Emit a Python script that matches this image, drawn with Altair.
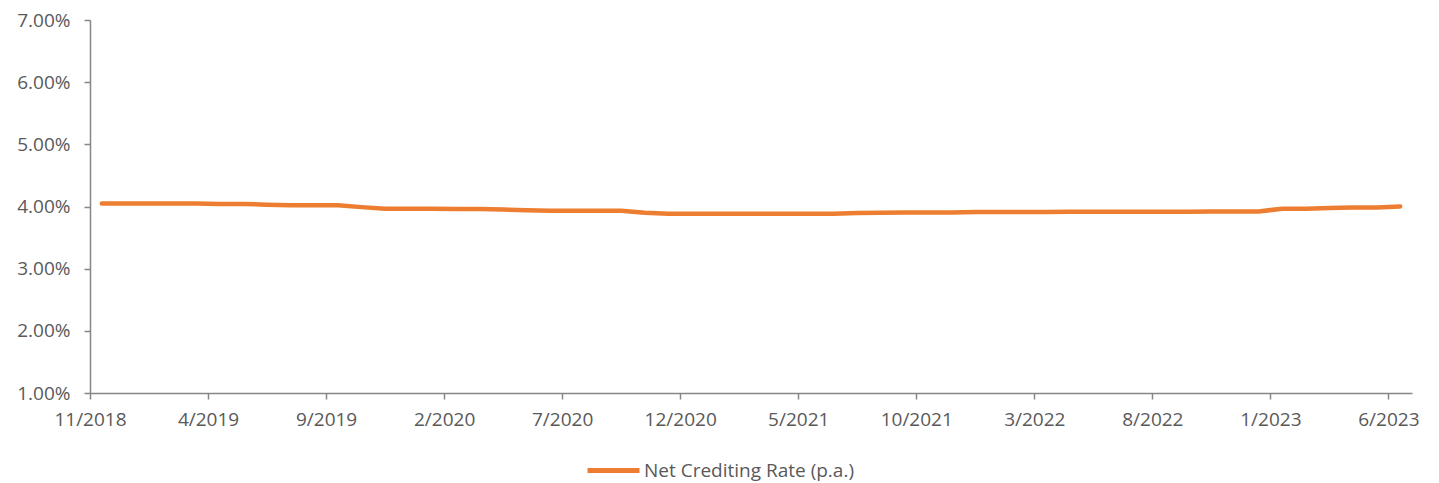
import altair as alt
import pandas as pd

months = [
    "11/2018", "12/2018",
    "1/2019", "2/2019", "3/2019", "4/2019", "5/2019", "6/2019", "7/2019", "8/2019", "9/2019", "10/2019", "11/2019", "12/2019",
    "1/2020", "2/2020", "3/2020", "4/2020", "5/2020", "6/2020", "7/2020", "8/2020", "9/2020", "10/2020", "11/2020", "12/2020",
    "1/2021", "2/2021", "3/2021", "4/2021", "5/2021", "6/2021", "7/2021", "8/2021", "9/2021", "10/2021", "11/2021", "12/2021",
    "1/2022", "2/2022", "3/2022", "4/2022", "5/2022", "6/2022", "7/2022", "8/2022", "9/2022", "10/2022", "11/2022", "12/2022",
    "1/2023", "2/2023", "3/2023", "4/2023", "5/2023", "6/2023",
]
rates = [
    4.05, 4.05,
    4.05, 4.05, 4.05, 4.04, 4.04, 4.03, 4.02, 4.02, 4.02, 3.99, 3.965, 3.965,
    3.965, 3.96, 3.96, 3.95, 3.94, 3.93, 3.93, 3.93, 3.93, 3.90, 3.885, 3.885,
    3.885, 3.885, 3.885, 3.885, 3.885, 3.885, 3.895, 3.90, 3.905, 3.905, 3.905, 3.91,
    3.91, 3.91, 3.91, 3.915, 3.915, 3.915, 3.915, 3.915, 3.915, 3.92, 3.92, 3.92,
    3.965, 3.965, 3.975, 3.985, 3.985, 4.00,
]
tick_labels = ["11/2018", "4/2019", "9/2019", "2/2020", "7/2020", "12/2020",
               "5/2021", "10/2021", "3/2022", "8/2022", "1/2023", "6/2023"]
series_name = "Net Crediting Rate (p.a.)"

df = pd.DataFrame({
    "month": months,
    "rate": [r / 100 for r in rates],
    "series": [series_name] * len(months),
})

FONT = "Open Sans"
TEXT = "#595959"
AXIS = "#868686"

chart = alt.Chart(df).mark_line(strokeWidth=4.5, strokeCap="round", strokeJoin="round").encode(
    x=alt.X(
        "month:O",
        sort=None,
        bandPosition=0.5,
        scale=alt.Scale(type="band", paddingInner=0, paddingOuter=0),
        axis=alt.Axis(
            title=None,
            values=tick_labels,
            tickOffset=-11.8,
            labelAngle=0,
            labelFont=FONT,
            labelFontSize=19,
            labelColor=TEXT,
            labelPadding=11,
            tickColor=AXIS,
            tickSize=6,
            tickWidth=1.5,
            domainColor=AXIS,
            domainWidth=1.5,
            grid=False,
        ),
    ),
    y=alt.Y(
        "rate:Q",
        scale=alt.Scale(domain=[0.01, 0.07]),
        axis=alt.Axis(
            title=None,
            format=".2%",
            values=[0.01, 0.02, 0.03, 0.04, 0.05, 0.06, 0.07],
            labelFont=FONT,
            labelFontSize=19,
            labelColor=TEXT,
            labelPadding=14,
            tickColor=AXIS,
            tickSize=6,
            tickWidth=1.5,
            domainColor=AXIS,
            domainWidth=1.5,
            grid=False,
        ),
    ),
    color=alt.Color(
        "series:N",
        scale=alt.Scale(domain=[series_name], range=["#ED7D31"]),
        legend=alt.Legend(
            title=None,
            orient="none",
            legendX=495,
            legendY=422,
            symbolType="stroke",
            symbolSize=2704,
            symbolStrokeWidth=5,
            labelFont=FONT,
            labelFontSize=19,
            labelColor=TEXT,
            labelOffset=2,
            labelLimit=0,
            padding=0,
        ),
    ),
).properties(
    width=1322,
    height=373,
    autosize=alt.AutoSizeParams(type="none"),
    padding={"left": 82, "top": 12, "right": 19, "bottom": 90},
).configure_view(stroke=None)

chart.save("out.html", embed_options={"renderer": "svg", "actions": False})
